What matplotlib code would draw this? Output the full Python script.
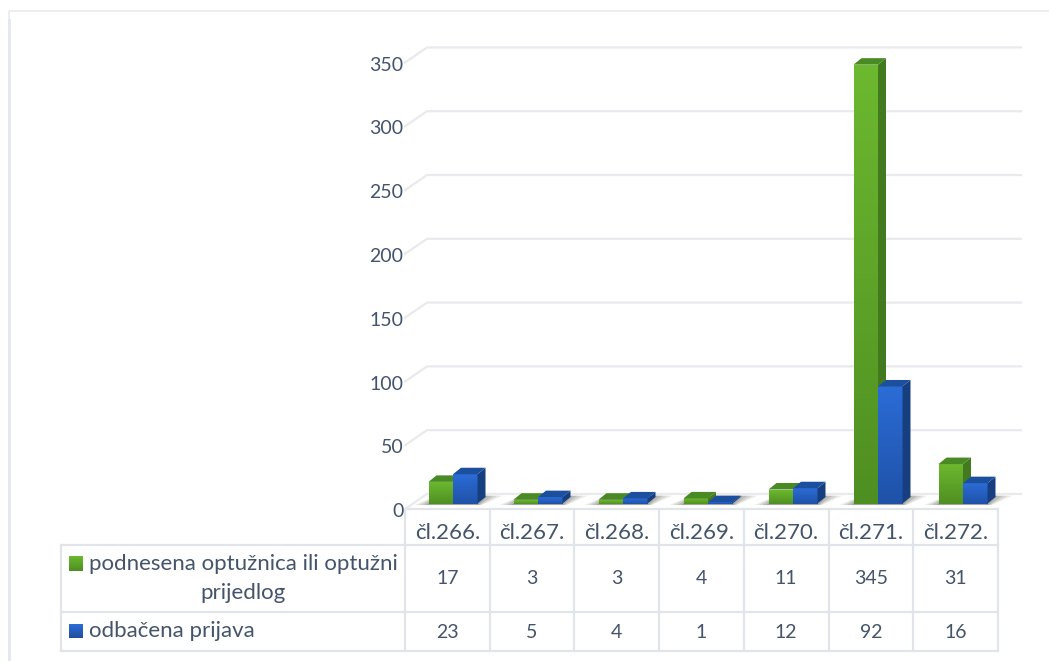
import matplotlib
matplotlib.use('Agg')
import matplotlib.pyplot as plt
import numpy as np
from matplotlib.colors import LinearSegmentedColormap
from matplotlib.patches import Polygon

plt.rcParams['font.family'] = ['Lato', 'DejaVu Sans']

categories = ['čl.266.', 'čl.267.', 'čl.268.', 'čl.269.', 'čl.270.', 'čl.271.', 'čl.272.']
optuznica = [17, 3, 3, 4, 11, 345, 31]
odbacena = [23, 5, 4, 1, 12, 92, 16]
series_names = ['podnesena optužnica ili optužni\nprijedlog', 'odbačena prijava']
y_ticks = [0, 50, 100, 150, 200, 250, 300, 350]

W, H = 1049, 661
TEXT = '#44546a'
LINE = '#e1e5ea'
GRID = '#e9eaee'

fig = plt.figure(figsize=(W / 100, H / 100), dpi=100, facecolor='white')

# pixel overlay for the frame and the data table
bg = fig.add_axes([0, 0, 1, 1])
bg.set_xlim(0, W)
bg.set_ylim(H, 0)
bg.axis('off')

# plot axes: x is category number, y is value (front plane of the bars)
cat_w = 85.0
px_y = 1.272
left, right, top, bottom = 395, 1030, 30, 520
base_y = 503.5
x0_px = 453.0   # centre of first group
ax = fig.add_axes([left / W, 1 - bottom / H, (right - left) / W, (bottom - top) / H])
ax.set_xlim((left - x0_px) / cat_w, (right - x0_px) / cat_w)
ax.set_ylim((base_y - bottom) / px_y, (base_y - top) / px_y)
ax.patch.set_alpha(0)
for s in ax.spines.values():
    s.set_visible(False)

bar_w = 24.5 / cat_w
dep_x = 8.0 / cat_w
dep_y = 6.5 / px_y
floor_front = -4.4
floor_back = 7.5
floor_x0 = (405 - x0_px) / cat_w
floor_x1 = (427 - x0_px) / cat_w
floor_end = (1021 - x0_px) / cat_w
grid_step = 1.003

# walls
for t in y_ticks:
    yb = floor_back + t * grid_step
    yf = floor_front + t * grid_step
    ax.plot([floor_x0, floor_x1, floor_end], [yf, yb, yb], color=GRID, lw=1.6, zorder=1,
            solid_joinstyle='round')

ax.set_xticks([])
ax.set_yticks([t * grid_step + floor_front - 0.8 for t in y_ticks])
ax.set_yticklabels([str(t) for t in y_ticks], fontsize=14, color=TEXT)
ax.tick_params(axis='y', length=0, pad=-6)


def gradient(c_top, c_bot):
    return LinearSegmentedColormap.from_list('g', [c_bot, c_top])


grad = np.linspace(0, 1, 64).reshape(-1, 1)


def draw_bar(x, v, top_c, bot_c, side_c, cap_c, z):
    b = ax.bar(x, v, bar_w, align='edge', color='none', zorder=z)[0]
    im = ax.imshow(grad, extent=[x, x + bar_w, 0, max(v, 0.1)], origin='lower', aspect='auto',
                   cmap=gradient(top_c, bot_c), zorder=z)
    im.set_clip_path(b)
    ax.add_patch(Polygon([(x + bar_w, 0), (x + bar_w + dep_x, dep_y), (x + bar_w + dep_x, v + dep_y),
                          (x + bar_w, v)], fc=side_c, ec='none', zorder=z))
    ax.add_patch(Polygon([(x, v), (x + dep_x, v + dep_y), (x + bar_w + dep_x, v + dep_y),
                          (x + bar_w, v)], fc=cap_c, ec='none', zorder=z))


xlim, ylim = ax.get_xlim(), ax.get_ylim()
for i in range(len(categories)):
    # soft shadow on the floor
    for grow, a in [(14, 0.16), (10, 0.2), (6, 0.26), (2, 0.36)]:
        g = grow / cat_w
        ax.add_patch(Polygon([(i - bar_w - g, -1.2), (i + bar_w + g * 0.3, -1.2),
                              (i + bar_w + dep_x + g * 1.2, dep_y + 1), (i - bar_w + dep_x, dep_y + 1)],
                             fc='#7d7d75', ec='none', alpha=a, zorder=2))
    draw_bar(i - bar_w, optuznica[i], '#6cb82f', '#4f8f22', '#447a1f', '#4a8a24', 3 + i * 0.1)
    draw_bar(i, odbacena[i], '#2b6cd6', '#1f52a8', '#173f80', '#1d4f9f', 3.05 + i * 0.1)
ax.set_xlim(xlim)
ax.set_ylim(ylim)

# frame round the chart: only the top and left edges show
bg.plot([8.5, 8.5, W], [H, 11, 11], color='#e8ebef', lw=1.2)
bg.plot([8.5, 8.5], [H, 20], color='#e4e8ee', lw=2.0)

# data table
col_x = [405 + 84.7 * i for i in range(8)]
row_y = [509, 545, 612, 651]
lab_x = 61
bg.plot([col_x[0], col_x[-1]], [row_y[0], row_y[0]], color=LINE, lw=1.6)
for y in row_y[1:]:
    bg.plot([lab_x, col_x[-1]], [y, y], color=LINE, lw=1.6)
for i, x in enumerate(col_x):
    bg.plot([x, x], [row_y[0], row_y[-1]], color=LINE, lw=1.6)
bg.plot([lab_x, lab_x], [row_y[1], row_y[-1]], color=LINE, lw=1.6)

fs = 16
fs_num = 14
for i, c in enumerate(categories):
    xc = (col_x[i] + col_x[i + 1]) / 2
    bg.text(xc, 533, c, ha='center', va='center', fontsize=fs, color=TEXT)
    bg.text(xc, 579, str(optuznica[i]), ha='center', va='center', fontsize=fs_num, color=TEXT)
    bg.text(xc, 632, str(odbacena[i]), ha='center', va='center', fontsize=fs_num, color=TEXT)

first, second = series_names[0].split('\n')
bg.text(243, 564, first, ha='center', va='center', fontsize=fs, color=TEXT)
bg.text(243, 593, second, ha='center', va='center', fontsize=fs, color=TEXT)
bg.text(89, 631, series_names[1], ha='left', va='center', fontsize=fs, color=TEXT)
bg.imshow(grad[::-1], extent=[69, 83, 571, 556], aspect='auto', cmap=gradient('#6cb82f', '#4f8f22'))
bg.imshow(grad[::-1], extent=[69, 83, 638, 624], aspect='auto', cmap=gradient('#2b6cd6', '#1f4f9f'))
bg.set_xlim(0, W)
bg.set_ylim(H, 0)

fig.savefig('out.png', dpi=100)
